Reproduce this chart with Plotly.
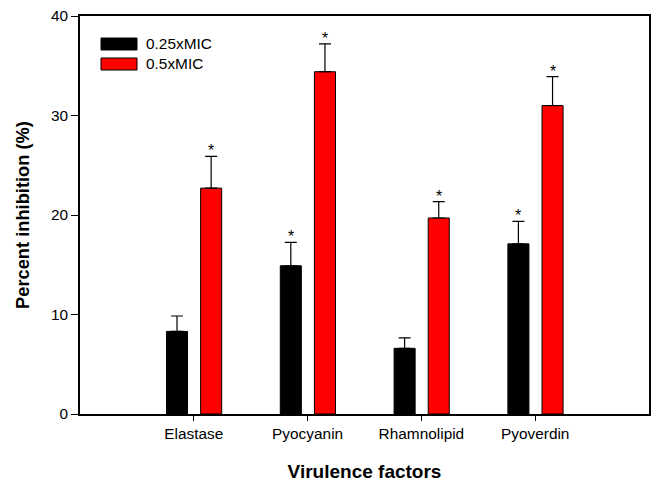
import plotly.graph_objects as go

categories = ["Elastase", "Pyocyanin", "Rhamnolipid", "Pyoverdin"]
series_names = ["0.25xMIC", "0.5xMIC"]
low_values = [8.3, 14.9, 6.6, 17.1]
low_errors = [1.55, 2.35, 1.05, 2.25]
high_values = [22.7, 34.4, 19.7, 31.0]
high_errors = [3.2, 2.8, 1.65, 2.9]
low_sig = [False, True, False, True]
high_sig = [True, True, True, True]
y_ticks = [0, 10, 20, 30, 40]

FONT = "Liberation Sans, Arial, sans-serif"
bar_w = 0.185
offsets = [-0.24, 0.06]
colors = ["#000000", "#ff0000"]

xs = list(range(len(categories)))
fig = go.Figure()
for name, vals, errs, sig, off, col in [
    (series_names[0], low_values, low_errors, low_sig, offsets[0], colors[0]),
    (series_names[1], high_values, high_errors, high_sig, offsets[1], colors[1]),
]:
    fig.add_trace(go.Bar(
        x=xs, y=vals, name=name, width=bar_w, offset=off,
        marker=dict(color=col, line=dict(color="#000000", width=1)),
        error_y=dict(type="data", symmetric=False, array=errs,
                     arrayminus=[0] * len(errs), color="#000000",
                     thickness=1.2, width=6),
        showlegend=False,
    ))
    for x, v, e, s in zip(xs, vals, errs, sig):
        if s:
            fig.add_annotation(x=x + off + bar_w / 2, y=v + e, text="*",
                               showarrow=False, xanchor="center", yanchor="bottom",
                               yshift=-5,
                               font=dict(size=16, color="#000000", family=FONT))

# legend drawn manually (long rectangles as in reference)
for i, (name, col) in enumerate(zip(series_names, colors)):
    y0 = 38 + i * 20
    fig.add_shape(type="rect", xref="paper", yref="paper",
                  x0=(101 - 80) / 569, x1=(137 - 80) / 569,
                  y0=(414 - (y0 + 12)) / 398, y1=(414 - y0) / 398,
                  fillcolor=col, line=dict(color="#000000", width=1))
    fig.add_annotation(xref="paper", yref="paper", x=(144 - 80) / 569,
                       y=(414 - (y0 + 6)) / 398, text=name, showarrow=False,
                       xanchor="left", yanchor="middle",
                       font=dict(size=15.4, color="#000000", family=FONT))

fig.update_layout(
    width=654, height=482,
    margin=dict(l=80, r=5, t=16, b=68, autoexpand=False),
    plot_bgcolor="white", paper_bgcolor="white",
    font=dict(family=FONT, size=15, color="#000000"),
    barmode="overlay",
)
fig.update_xaxes(
    range=[-1, 4], tickvals=xs, ticktext=categories, automargin=False,
    showline=True, linecolor="#000000", linewidth=1.5, mirror=True,
    ticks="outside", ticklen=5, tickcolor="#000000", showgrid=False, zeroline=False,
    title=dict(text="<b>Virulence factors</b>", font=dict(size=19, family=FONT), standoff=24),
    tickfont=dict(size=15.4, family=FONT),
)
fig.update_yaxes(
    range=[0, 40], tickvals=y_ticks, automargin=False,
    showline=True, linecolor="#000000", linewidth=1.5, mirror=True,
    ticks="outside", ticklen=7, tickcolor="#000000", showgrid=False, zeroline=False,
    title=dict(text="<b>Percent inhibition (%)</b>", font=dict(size=18.3, family=FONT), standoff=17),
    tickfont=dict(size=15.4, family=FONT),
)
fig.write_html("out.html")
